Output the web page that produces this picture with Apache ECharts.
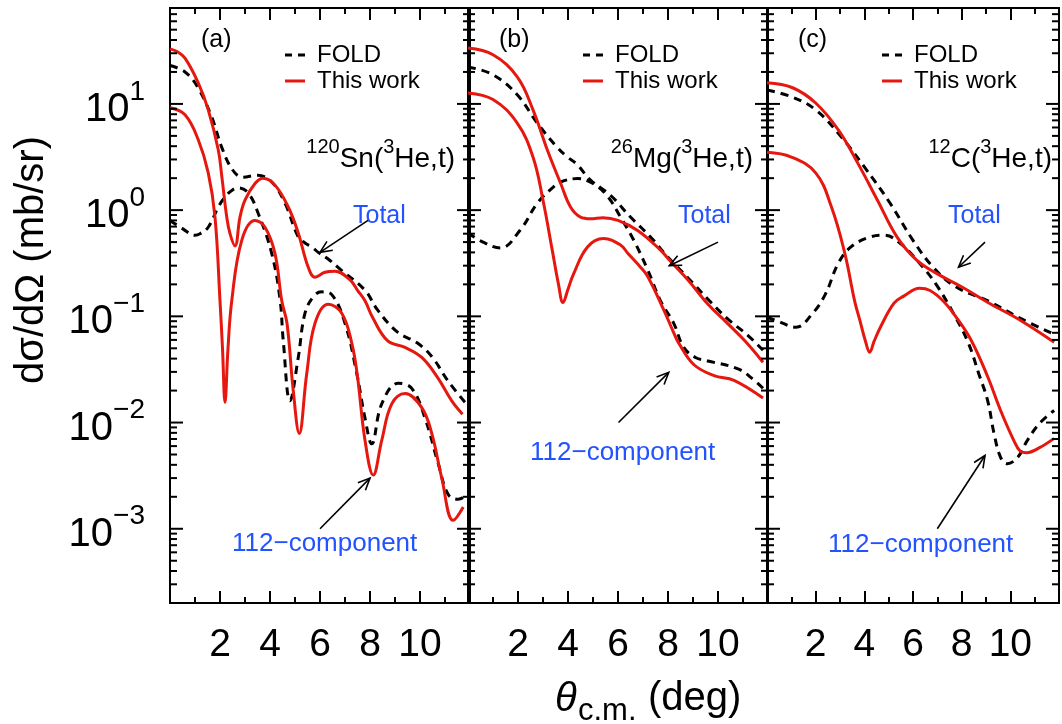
<!DOCTYPE html>
<html>
<head>
<meta charset="utf-8">
<script src="https://cdn.jsdelivr.net/npm/echarts@6/dist/echarts.min.js"></script>
<style>
  html, body { margin: 0; padding: 0; background: #fff; }
  #chart { width: 1062px; height: 724px; }
</style>
</head>
<body>
<div id="chart"></div>
<script>
// ---- data: [theta (deg), dσ/dΩ (mb/sr)] ----
// (a) 120Sn(3He,t)
var snFold = [[0,23],[0.6,20],[1.1,14.5],[1.67,7.5],[2.07,3.9],[2.5,2.4],[2.9,2.04],[3.5,2.13],[4.07,1.84],[4.6,1.16],[5.13,0.56],[5.4,0.49],[5.67,0.45],[5.93,0.40],[6.3,0.35],[6.87,0.27],[7.8,0.176],[8.3,0.115],[9.1,0.071],[9.9,0.056],[10.5,0.041],[11.1,0.025],[11.8,0.0155]];
var snWork = [[0,33],[0.3,31],[0.6,27],[1.13,15.8],[1.53,8.8],[1.93,3.7],[2.07,2.1],[2.27,0.86],[2.4,0.6],[2.6,0.46],[2.8,0.86],[3.0,1.24],[3.4,1.78],[3.72,2.0],[4.2,1.72],[4.73,1.07],[5.13,0.61],[5.53,0.29],[5.8,0.234],[6.2,0.26],[6.6,0.266],[7.2,0.22],[7.5,0.176],[7.8,0.14],[8.1,0.098],[8.7,0.059],[9.4,0.051],[10.07,0.041],[10.7,0.0266],[11.27,0.016],[11.7,0.012]];
var snFold112 = [[0,0.8],[0.5,0.67],[1.0,0.58],[1.2,0.6],[1.53,0.69],[1.93,1.07],[2.2,1.33],[2.5,1.55],[2.73,1.62],[3.13,1.45],[3.53,0.93],[4.07,0.39],[4.4,0.145],[4.53,0.059],[4.8,0.016],[5.13,0.041],[5.4,0.107],[5.75,0.155],[6.07,0.17],[6.47,0.16],[7.0,0.086],[7.47,0.029],[7.8,0.011],[8.07,0.0063],[8.47,0.015],[9.13,0.0234],[9.67,0.021],[10.2,0.011],[10.73,0.0041],[11.13,0.0021],[11.53,0.0019],[11.9,0.0021]];
var snWork112 = [[0,9.2],[0.6,7.9],[1.13,4.6],[1.53,2.24],[1.8,0.86],[2.0,0.14],[2.1,0.05],[2.2,0.0155],[2.32,0.05],[2.47,0.14],[2.87,0.52],[3.4,0.8],[3.8,0.69],[4.2,0.39],[4.47,0.14],[4.68,0.086],[4.93,0.02],[5.17,0.0079],[5.47,0.029],[5.8,0.086],[6.33,0.13],[6.87,0.107],[7.27,0.056],[7.5,0.027],[7.8,0.0068],[8.13,0.0032],[8.47,0.0068],[8.87,0.015],[9.4,0.0188],[10.07,0.0138],[10.47,0.0079],[10.87,0.003],[11.33,0.0012],[11.73,0.0016]];

// (b) 26Mg(3He,t)
var mgFold = [[0,22.3],[1.0,18.8],[1.97,12.2],[2.77,6.6],[3.57,3.9],[3.98,3.16],[4.36,2.7],[4.9,1.92],[5.7,1.38],[6.5,0.86],[7.31,0.556],[8.0,0.36],[8.8,0.23],[9.6,0.145],[10.4,0.094],[11.2,0.066],[11.8,0.048]];
var mgWork = [[0,33.6],[1.0,29],[1.97,18],[2.6,8.8],[3.17,3.7],[3.7,1.8],[4.1,1.07],[4.5,0.86],[4.9,0.83],[5.4,0.85],[6.0,0.8],[6.8,0.64],[7.7,0.42],[8.1,0.33],[8.8,0.22],[9.6,0.13],[10.4,0.085],[11.1,0.058],[11.8,0.037]];
var mgFold112 = [[0,0.61],[0.6,0.5],[1.29,0.44],[2.09,0.65],[2.77,1.16],[3.41,1.65],[3.7,1.84],[4.38,1.98],[5.0,1.78],[5.58,1.35],[6.1,0.86],[6.63,0.52],[7.2,0.27],[7.7,0.14],[8.23,0.086],[8.63,0.051],[9.1,0.041],[9.6,0.038],[10.8,0.032],[11.45,0.025],[11.8,0.021]];
var mgWork112 = [[0,12.7],[1.0,11],[1.97,6.6],[2.6,3.16],[3.0,1.24],[3.37,0.42],[3.62,0.2],[3.8,0.135],[4.0,0.18],[4.22,0.25],[4.78,0.45],[5.42,0.54],[6.1,0.47],[6.4,0.39],[6.9,0.29],[7.2,0.235],[7.83,0.115],[8.23,0.07],[8.43,0.056],[9.04,0.035],[9.84,0.0277],[10.64,0.025],[11.8,0.017]];

// (c) 12C(3He,t)
var cFold = [[0,13.5],[1.0,11.7],[2.0,8.8],[3.05,4.9],[4.0,2.55],[5.06,1.16],[6.0,0.52],[6.83,0.29],[7.75,0.19],[9.08,0.14],[10.44,0.095],[11.8,0.068]];
var cWork = [[0,15.8],[1.05,14.2],[2.0,10.2],[2.93,5.7],[3.73,2.77],[4.54,1.24],[5.34,0.56],[6.14,0.34],[6.95,0.255],[8.03,0.188],[9.08,0.135],[10.44,0.091],[11.8,0.057]];
var cFold112 = [[0,0.098],[0.4,0.091],[1.2,0.079],[1.85,0.105],[2.39,0.16],[2.93,0.316],[3.45,0.45],[4.26,0.56],[4.82,0.58],[5.46,0.49],[6.27,0.316],[6.95,0.2],[7.75,0.098],[8.29,0.055],[8.7,0.029],[9.07,0.016],[9.33,0.0079],[9.6,0.0047],[9.87,0.0041],[10.3,0.0047],[10.7,0.0068],[11.2,0.0098],[11.8,0.013]];
var cWork112 = [[0,3.5],[1.0,3.16],[2.0,2.24],[2.65,1.07],[3.2,0.39],[3.6,0.14],[3.82,0.091],[4.05,0.058],[4.22,0.046],[4.4,0.058],[4.66,0.079],[5.22,0.133],[5.62,0.155],[6.27,0.184],[6.7,0.175],[7.23,0.14],[7.75,0.1],[8.4,0.059],[9.07,0.027],[9.6,0.013],[10.14,0.0068],[10.4,0.0054],[10.67,0.0052],[11.2,0.0058],[11.8,0.0071]];

// annotation arrows [tailX, tailY, headX, headY]
var snArrows = [[7.92,0.8,6.0,0.4],[6.0,0.001,8.0,0.003]];
var mgArrows = [[10.0,0.5,8.05,0.3],[6.02,0.01,8.03,0.0297]];
var cArrows  = [[8.96,0.5,7.87,0.29],[7.0,0.001,8.96,0.0049]];

// axis ticks
var xRange = [0, 12];
var yRange = [0.0002, 80];
var yMajorTicks = [0.001, 0.01, 0.1, 1, 10];
var yMinorTicks = [0.0002,0.0003,0.0004,0.0005,0.0006,0.0007,0.0008,0.0009,
                   0.002,0.003,0.004,0.005,0.006,0.007,0.008,0.009,
                   0.02,0.03,0.04,0.05,0.06,0.07,0.08,0.09,
                   0.2,0.3,0.4,0.5,0.6,0.7,0.8,0.9,
                   2,3,4,5,6,7,8,9,
                   20,30,40,50,60,70,80];

var panelTags = ['(a)', '(b)', '(c)'];
var panelMass = ['120', '26', '12'];
var panelElem = ['Sn', 'Mg', 'C'];

// ---- layout ----
var FONT = '"Liberation Sans", Arial, Helvetica, sans-serif';
var RED = '#e5170f';
var BLUE = '#2352ff';
var panelLeft = [170, 468, 767];
var gridTop = 8, gridH = 595, gridW = 300;
var totalLabelX = [183, 210, 181];
var compLabelPos = [[62, 544], [62, 453], [61, 545]];
// legend samples: short dashes / solid bar
var ICON_DASH = 'path://M0,0h7v3h-7z M13,0h7v3h-7z';
var ICON_SOLID = 'path://M0,0h20v3h-20z';

var panels = [
  { fold: snFold, work: snWork, fold112: snFold112, work112: snWork112, arrows: snArrows },
  { fold: mgFold, work: mgWork, fold112: mgFold112, work112: mgWork112, arrows: mgArrows },
  { fold: cFold,  work: cWork,  fold112: cFold112,  work112: cWork112,  arrows: cArrows }
];

var yTickData = yMajorTicks.map(function (v) { return [0, v, 1]; })
  .concat(yMinorTicks.map(function (v) { return [0, v, 0]; }));

function renderYTicks(params, api) {
  var v = api.value(1);
  var len = api.value(2) ? 13 : 7;
  var pl = api.coord([xRange[0], v]);
  var pr = api.coord([xRange[1], v]);
  var st = { stroke: '#000', lineWidth: 2 };
  return {
    type: 'group',
    children: [
      { type: 'line', shape: { x1: pl[0], y1: pl[1], x2: pl[0] + len, y2: pl[1] }, style: st },
      { type: 'line', shape: { x1: pr[0], y1: pr[1], x2: pr[0] - len, y2: pr[1] }, style: st }
    ]
  };
}

function renderArrow(params, api) {
  var a = api.coord([api.value(0), api.value(1)]);
  var b = api.coord([api.value(2), api.value(3)]);
  var ang = Math.atan2(b[1] - a[1], b[0] - a[0]);
  var L = 13, w = 0.42;
  var p1 = [b[0] - L * Math.cos(ang - w), b[1] - L * Math.sin(ang - w)];
  var p2 = [b[0] - L * Math.cos(ang + w), b[1] - L * Math.sin(ang + w)];
  var st = { stroke: '#000', lineWidth: 1.6, fill: null };
  return {
    type: 'group',
    children: [
      { type: 'line', shape: { x1: a[0], y1: a[1], x2: b[0], y2: b[1] }, style: st },
      { type: 'polyline', shape: { points: [p1, b, p2] }, style: st }
    ]
  };
}

function yLabel(v) {
  var lg = Math.log10(v);
  var e = Math.round(lg);
  if (Math.abs(lg - e) > 1e-6) return '';
  return '{b|10}{s|' + (e < 0 ? '\u2212' + (-e) : e) + '}';
}

function curve(name, i, data, color, dashed) {
  return {
    name: name, type: 'line', xAxisIndex: i, yAxisIndex: i, data: data,
    symbol: 'none', smooth: 0.4, z: dashed ? 2 : 3,
    lineStyle: { color: color, width: 3, type: dashed ? [8, 6] : 'solid' },
    itemStyle: { color: color }
  };
}

var grids = [], xAxes = [], yAxes = [], series = [], legends = [], graphics = [];

panels.forEach(function (p, i) {
  var left = panelLeft[i];
  grids.push({ left: left, top: gridTop, width: gridW, height: gridH, show: true,
    borderColor: '#000', borderWidth: 2, backgroundColor: 'transparent' });

  yAxes.push({
    type: 'log', gridIndex: i, min: yRange[0], max: yRange[1], logBase: 10,
    axisLine: { show: false }, axisTick: { show: false }, splitLine: { show: false },
    axisLabel: {
      show: i === 0, margin: 25, color: '#000', formatter: yLabel,
      rich: {
        b: { fontSize: 40, lineHeight: 52, verticalAlign: 'bottom', fontFamily: FONT, color: '#000' },
        s: { fontSize: 28, lineHeight: 28, verticalAlign: 'top', fontFamily: FONT, color: '#000' }
      }
    }
  });

  series.push(curve('FOLD', i, p.fold, '#000', true));
  series.push(curve('FOLD', i, p.fold112, '#000', true));
  series.push(curve('This work', i, p.work, RED, false));
  series.push(curve('This work', i, p.work112, RED, false));
  series.push({ name: 'ticks' + i, type: 'custom', xAxisIndex: i, yAxisIndex: i,
    data: yTickData, encode: { x: 0, y: 1 }, renderItem: renderYTicks, silent: true, z: 5 });
  series.push({ name: 'arrows' + i, type: 'custom', xAxisIndex: i, yAxisIndex: i,
    data: p.arrows, encode: { x: [0, 2], y: [1, 3] }, renderItem: renderArrow, silent: true, z: 5 });

  legends.push({
    left: left + 110, top: 38, orient: 'vertical', itemWidth: 20, itemHeight: 3, itemGap: 2,
    data: [{ name: 'FOLD', icon: ICON_DASH }, { name: 'This work', icon: ICON_SOLID }],
    selectedMode: false, itemStyle: { borderWidth: 0 },
    textStyle: { fontSize: 24, color: '#000', fontFamily: FONT, lineHeight: 24, padding: [0, 0, 0, 7] }
  });

  graphics.push({ type: 'text', x: left + 31, y: 40,
    style: { text: panelTags[i], font: '25px ' + FONT, fill: '#000', verticalAlign: 'middle' } });
  graphics.push({ type: 'text', x: left + 285, y: 155,
    style: {
      text: '{s|' + panelMass[i] + '}{m|' + panelElem[i] + '(}{s|3}{m|He,t)}',
      align: 'right', verticalAlign: 'middle', fill: '#000',
      rich: {
        m: { fontSize: 28, lineHeight: 36, verticalAlign: 'bottom', fontFamily: FONT, fill: '#000' },
        s: { fontSize: 20, lineHeight: 20, verticalAlign: 'top', fontFamily: FONT, fill: '#000' }
      }
    } });
  graphics.push({ type: 'text', x: left + totalLabelX[i], y: 216,
    style: { text: 'Total', font: '25px ' + FONT, fill: BLUE, verticalAlign: 'middle' } });
  graphics.push({ type: 'text', x: left + compLabelPos[i][0], y: compLabelPos[i][1],
    style: { text: '112\u2212component', font: '26px ' + FONT, fill: BLUE, verticalAlign: 'middle' } });
});

// bottom axes (with labels) then top axes (ticks only)
[0, 1, 2].forEach(function (i) {
  xAxes.push({
    type: 'value', gridIndex: i, min: xRange[0], max: xRange[1], interval: 2, position: 'bottom',
    axisLine: { show: false }, splitLine: { show: false },
    axisTick: { inside: true, length: 12, lineStyle: { color: '#000', width: 2 } },
    minorTick: { show: true, splitNumber: 2, length: 6, lineStyle: { color: '#000', width: 2 } },
    axisLabel: { margin: 23, fontSize: 39, color: '#000', fontFamily: FONT,
      formatter: function (v) { return (v === xRange[0] || v === xRange[1]) ? '' : String(v); } }
  });
});
[0, 1, 2].forEach(function (i) {
  xAxes.push({
    type: 'value', gridIndex: i, min: xRange[0], max: xRange[1], interval: 2, position: 'top',
    axisLine: { show: false }, splitLine: { show: false }, axisLabel: { show: false },
    axisTick: { inside: true, length: 12, lineStyle: { color: '#000', width: 2 } },
    minorTick: { show: true, splitNumber: 2, length: 6, lineStyle: { color: '#000', width: 2 } }
  });
});

// axis titles
graphics.push({ type: 'text', x: 32, y: 260, rotation: Math.PI / 2,
  style: { text: 'd\u03c3/d\u03a9 (mb/sr)', font: '40px ' + FONT, fill: '#000', align: 'center', verticalAlign: 'middle' } });
graphics.push({ type: 'text', x: 555, y: 700,
  style: { text: '\u03b8', font: 'italic 40px ' + FONT, fill: '#000', verticalAlign: 'middle' } });
graphics.push({ type: 'text', x: 578, y: 711,
  style: { text: 'c.m.', font: '31px ' + FONT, fill: '#000', verticalAlign: 'middle' } });
graphics.push({ type: 'text', x: 648, y: 699,
  style: { text: '(deg)', font: '40px ' + FONT, fill: '#000', verticalAlign: 'middle' } });

var chart = echarts.init(document.getElementById('chart'), null, { renderer: 'canvas' });
chart.setOption({
  backgroundColor: '#fff',
  animation: false,
  textStyle: { fontFamily: FONT },
  grid: grids,
  xAxis: xAxes,
  yAxis: yAxes,
  legend: legends,
  series: series,
  graphic: graphics
});
</script>
</body>
</html>
